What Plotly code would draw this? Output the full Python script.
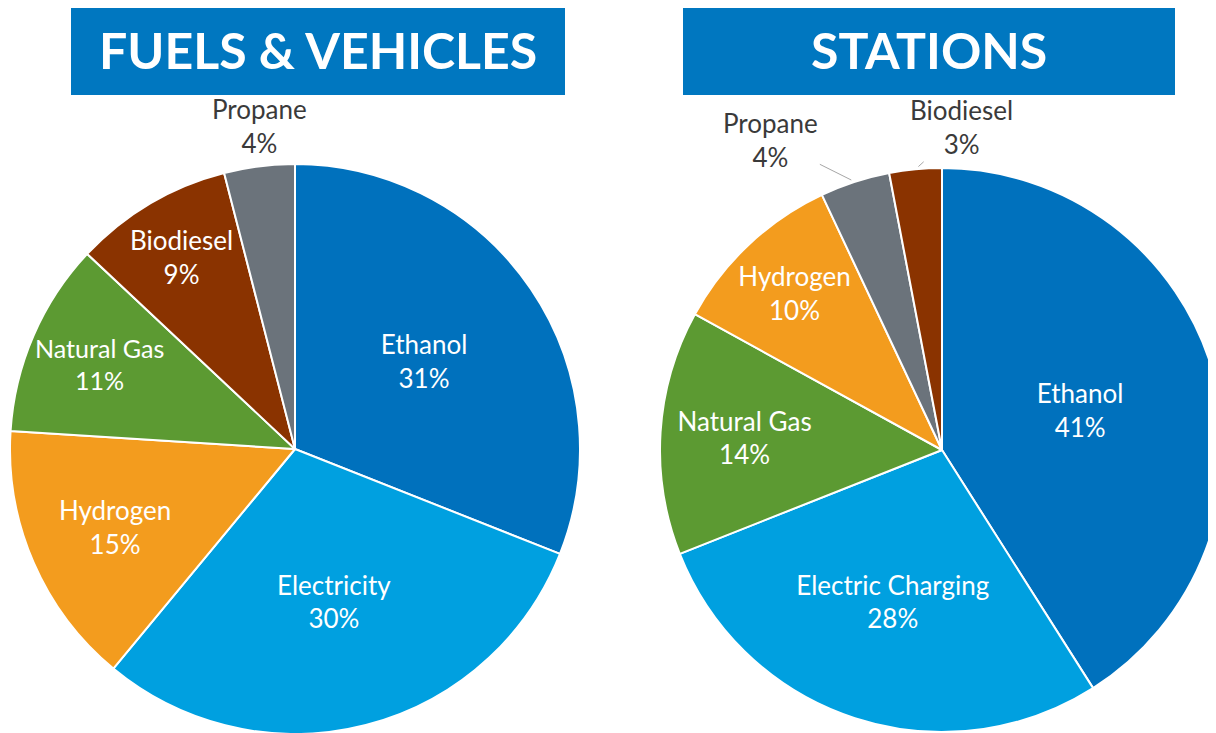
import math
import plotly.graph_objects as go

# Fuels & vehicles
fv_labels = ["Ethanol", "Electricity", "Hydrogen", "Natural Gas", "Biodiesel", "Propane"]
fv_values = [31, 30, 15, 11, 9, 4]

# Stations
st_labels = ["Ethanol", "Electric Charging", "Natural Gas", "Hydrogen", "Propane", "Biodiesel"]
st_values = [41, 28, 14, 10, 4, 3]

titles = ["FUELS & VEHICLES", "STATIONS"]

color_map = {
    "Ethanol": "#0071BD",
    "Electricity": "#00A0E0",
    "Electric Charging": "#00A0E0",
    "Hydrogen": "#F39C1E",
    "Natural Gas": "#5C9A32",
    "Biodiesel": "#8A3300",
    "Propane": "#6B737B",
}

FONT = "Lato, Carlito, 'Open Sans', sans-serif"
W, H = 1216, 733
OFF = 8  # page body margin


def px(X):
    return (X - OFF) / W


def py(Y):
    return 1 - (Y - OFF) / H


def pie(labels, values, domain, outside):
    return go.Pie(
        labels=labels,
        values=values,
        sort=False,
        direction="clockwise",
        rotation=0,
        domain=domain,
        marker=dict(colors=[color_map[l] for l in labels], line=dict(color="white", width=2)),
        texttemplate="%{label}<br>%{value}%",
        textposition=["none" if l in outside else "inside" for l in labels],
        insidetextorientation="horizontal",
        insidetextfont=dict(family=FONT, size=26, color="white"),
        showlegend=False,
        hoverinfo="label+percent",
        automargin=False,
    )


def edge_point(labels, values, label, cx, cy, r):
    """Pixel point on the rim at the middle angle of a slice (clockwise from 12 o'clock)."""
    total = sum(values)
    before = 0
    for l, v in zip(labels, values):
        if l == label:
            mid = (before + v / 2) / total * 2 * math.pi
            return cx + r * math.sin(mid), cy - r * math.cos(mid)
        before += v


# pie geometry in reference pixels
L_BOX = (10, 164, 580, 734)
R_BOX = (660, 168, 1224, 732)

fig = go.Figure()
fig.add_trace(pie(fv_labels, fv_values,
                  dict(x=[px(L_BOX[0]), px(L_BOX[2])], y=[max(0.0, py(L_BOX[3])), py(L_BOX[1])]),
                  ["Propane"]))
fig.add_trace(pie(st_labels, st_values,
                  dict(x=[px(R_BOX[0]), min(1.0, px(R_BOX[2]))], y=[max(0.0, py(R_BOX[3])), py(R_BOX[1])]),
                  ["Propane", "Biodiesel"]))

OUT_FONT = dict(family=FONT, size=26, color="#3A3A3A")

# Left pie: Propane label above its slice
lcx, lcy, lr = (L_BOX[0] + L_BOX[2]) / 2, (L_BOX[1] + L_BOX[3]) / 2, (L_BOX[2] - L_BOX[0]) / 2
ex, ey = edge_point(fv_labels, fv_values, "Propane", lcx, lcy, lr)
fig.add_annotation(xref="paper", yref="paper", x=px(ex), y=py(ey),
                   text="Propane<br>4%", showarrow=False, xanchor="center", yanchor="bottom",
                   yshift=5, font=OUT_FONT)

# Right pie: outside labels with leader lines
rcx, rcy, rr = (R_BOX[0] + R_BOX[2]) / 2, (R_BOX[1] + R_BOX[3]) / 2, (R_BOX[2] - R_BOX[0]) / 2
for lab, val, axo, ayo in [("Propane", 4, -84, -42), ("Biodiesel", 3, 46, -42)]:
    ex, ey = edge_point(st_labels, st_values, lab, rcx, rcy, rr)
    fig.add_annotation(xref="paper", yref="paper", x=px(ex), y=py(ey),
                       text=f"{lab}<br>{val}%", showarrow=True, arrowhead=0,
                       arrowwidth=1, arrowcolor="#A6A6A6", standoff=4,
                       ax=axo, ay=ayo, font=OUT_FONT)

boxes = [(71, 565), (683, 1175)]
for (x0, x1), t in zip(boxes, titles):
    fig.add_shape(type="rect", xref="paper", yref="paper",
                  x0=px(x0), x1=px(x1), y0=py(95), y1=min(1.0, py(4)),
                  fillcolor="#0077C0", line=dict(width=0), layer="below")
    fig.add_annotation(xref="paper", yref="paper", x=px((x0 + x1) / 2), y=py(50),
                       text="<b>" + t + "</b>", showarrow=False,
                       xanchor="center", yanchor="middle",
                       font=dict(family=FONT, size=50, color="white"))

fig.update_layout(
    width=W, height=H,
    margin=dict(l=0, r=0, t=0, b=0),
    paper_bgcolor="white",
    plot_bgcolor="white",
)

fig.write_html("out.html")
